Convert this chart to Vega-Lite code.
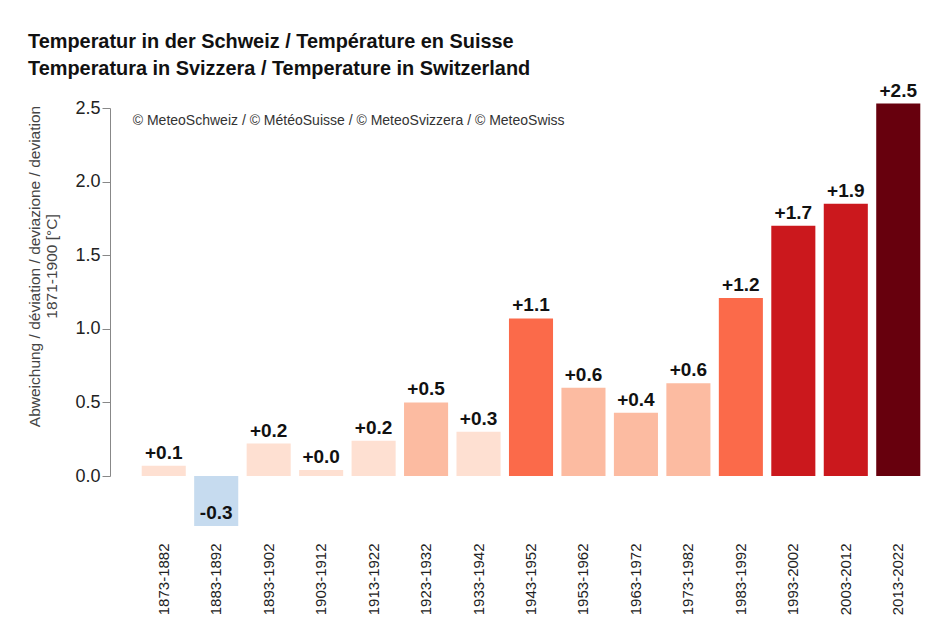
{
  "$schema": "https://vega.github.io/schema/vega-lite/v6.json",
  "autosize": {"type": "none"},
  "padding": {"left": 132, "top": 108, "right": 22, "bottom": 168},
  "width": 798,
  "height": 368,
  "background": "white",
  "config": {"view": {"stroke": null}, "font": "Liberation Sans"},
  "title": {
    "text": ["Temperatur in der Schweiz / Température en Suisse", "Temperatura in Svizzera / Temperature in Switzerland"],
    "anchor": "start",
    "frame": "group",
    "fontSize": 19.9,
    "fontWeight": "bold",
    "color": "#111111",
    "lineHeight": 27,
    "dx": -104,
    "offset": 3
  },
  "data": {
    "values": [
      {"period": "1873-1882", "value": 0.07, "label": "+0.1"},
      {"period": "1883-1892", "value": -0.34, "label": "-0.3"},
      {"period": "1893-1902", "value": 0.22, "label": "+0.2"},
      {"period": "1903-1912", "value": 0.04, "label": "+0.0"},
      {"period": "1913-1922", "value": 0.24, "label": "+0.2"},
      {"period": "1923-1932", "value": 0.50, "label": "+0.5"},
      {"period": "1933-1942", "value": 0.30, "label": "+0.3"},
      {"period": "1943-1952", "value": 1.07, "label": "+1.1"},
      {"period": "1953-1962", "value": 0.60, "label": "+0.6"},
      {"period": "1963-1972", "value": 0.43, "label": "+0.4"},
      {"period": "1973-1982", "value": 0.63, "label": "+0.6"},
      {"period": "1983-1992", "value": 1.21, "label": "+1.2"},
      {"period": "1993-2002", "value": 1.70, "label": "+1.7"},
      {"period": "2003-2012", "value": 1.85, "label": "+1.9"},
      {"period": "2013-2022", "value": 2.53, "label": "+2.5"}
    ]
  },
  "layer": [
    {
      "mark": {"type": "bar"},
      "encoding": {
        "x": {
          "field": "period",
          "type": "nominal",
          "sort": null,
          "scale": {"paddingInner": 0.16, "paddingOuter": 0.185},
          "axis": {
            "title": null,
            "labelAngle": -90,
            "labelFontSize": 15,
            "labelColor": "#222222",
            "ticks": false,
            "domain": false,
            "offset": 60,
            "labelPadding": 7
          }
        },
        "y": {
          "field": "value",
          "type": "quantitative",
          "scale": {"domain": [0, 2.5], "nice": false},
          "axis": {
            "title": ["Abweichung / déviation / deviazione / deviation", "1871-1900 [°C]"],
            "titleFontSize": 15.5,
            "titleFontWeight": "normal",
            "titleColor": "#444444",
            "titleLineHeight": 17,
            "titlePadding": 15,
            "titleY": 158,
            "values": [0, 0.5, 1, 1.5, 2, 2.5],
            "format": ".1f",
            "labelFontSize": 18,
            "labelColor": "#222222",
            "labelPadding": 2,
            "tickSize": 8,
            "tickColor": "#888888",
            "domainColor": "#888888",
            "grid": false,
            "offset": 22
          }
        },
        "color": {
          "field": "value",
          "type": "quantitative",
          "scale": {
            "type": "threshold",
            "domain": [0, 0.4, 1.0, 1.5, 2.0],
            "range": ["#c6dbef", "#fee0d2", "#fcbba1", "#fb6a4a", "#cb181d", "#67000d"]
          },
          "legend": null
        }
      }
    },
    {
      "mark": {"type": "text", "fontSize": 19, "fontWeight": "bold", "color": "#111111", "baseline": "alphabetic", "dy": -7},
      "encoding": {
        "x": {"field": "period", "type": "nominal", "sort": null},
        "y": {"field": "value", "type": "quantitative"},
        "text": {"field": "label", "type": "nominal"}
      }
    },
    {
      "data": {"values": [{"period": "1873-1882", "value": 2.41, "note": "© MeteoSchweiz / © MétéoSuisse / © MeteoSvizzera / © MeteoSwiss"}]},
      "mark": {"type": "text", "fontSize": 14, "color": "#333333", "align": "left", "baseline": "middle", "dx": -31},
      "encoding": {
        "x": {"field": "period", "type": "nominal", "sort": null},
        "y": {"field": "value", "type": "quantitative"},
        "text": {"field": "note", "type": "nominal"}
      }
    }
  ]
}
